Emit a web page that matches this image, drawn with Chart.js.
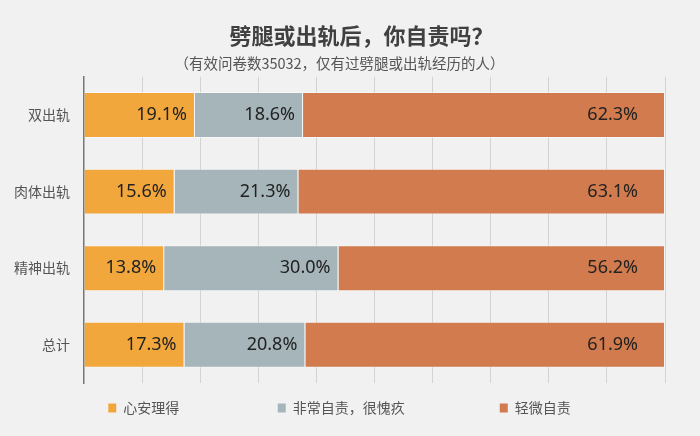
<!DOCTYPE html>
<html>
<head>
<meta charset="utf-8">
<script src="https://cdn.jsdelivr.net/npm/chart.js@4"></script>
<style>
  body { margin: 0; background: #f1f1f1; }
</style>
</head>
<body>
<canvas id="myChart" width="700" height="436"></canvas>
<script>
// data
const categories = ["双出轨", "肉体出轨", "精神出轨", "总计"]
const seriesNames = ["心安理得", "非常自责，很愧疚", "轻微自责"]
const calmValues = [19.1, 15.6, 13.8, 17.3]
const guiltyValues = [18.6, 21.3, 30.0, 20.8]
const slightValues = [62.3, 63.1, 56.2, 61.9]
const xTicks = [0, 10, 20, 30, 40, 50, 60, 70, 80, 90, 100]

const cjk = "'Noto Sans CJK SC', 'Noto Sans', sans-serif"

// paint the grey page behind everything
const bgPlugin = {
  id: "bg",
  beforeDraw: function(chart) {
    const c = chart.ctx
    c.save()
    c.fillStyle = "#f1f1f1"
    c.fillRect(0, 0, chart.width, chart.height)
    c.restore()
  }
}

// percentage text inside the end of each segment
const valueLabels = {
  id: "valueLabels",
  afterDatasetsDraw: function(chart) {
    const c = chart.ctx
    c.save()
    c.font = "18px 'Noto Sans', sans-serif"
    c.fillStyle = "#222"
    c.textAlign = "right"
    c.textBaseline = "middle"
    chart.data.datasets.forEach(function(ds, i) {
      const meta = chart.getDatasetMeta(i)
      meta.data.forEach(function(bar, j) {
        c.fillText(ds.data[j].toFixed(1) + "%", bar.x - ds.labelOffset, bar.y)
      })
    })
    c.restore()
  }
}

const myChart = new Chart(document.getElementById("myChart").getContext("2d"), {
  type: "bar",
  data: {
    labels: categories,
    datasets: [{
      label: seriesNames[0],
      data: calmValues,
      backgroundColor: "#f2a73c",
      labelOffset: 8
    }, {
      label: seriesNames[1],
      data: guiltyValues,
      backgroundColor: "#a6b5ba",
      labelOffset: 8
    }, {
      label: seriesNames[2],
      data: slightValues,
      backgroundColor: "#d17b4e",
      labelOffset: 27
    }]
  },
  options: {
    responsive: false,
    animation: false,
    indexAxis: "y",
    layout: {
      padding: { left: 14, right: 35, top: 0, bottom: 11 }
    },
    datasets: {
      bar: {
        categoryPercentage: 1,
        barPercentage: 0.6,
        borderWidth: 1,
        borderColor: "rgba(255, 255, 255, 0.45)"
      }
    },
    scales: {
      x: {
        stacked: true,
        min: 0,
        max: 100,
        afterBuildTicks: function(axis) {
          axis.ticks = xTicks.map(function(v) { return { value: v } })
        },
        ticks: { display: false },
        grid: { color: "#d3d3d3", drawTicks: false },
        border: { display: false }
      },
      y: {
        stacked: true,
        grid: { display: false, drawTicks: false },
        border: { display: true, color: "#777", width: 1.5 },
        ticks: {
          color: "#555",
          padding: 14,
          font: { size: 14, family: cjk }
        },
        // drop the extra padding chart.js leaves left of the labels
        afterFit: function(axis) {
          axis.width -= 14
        }
      }
    },
    plugins: {
      title: {
        display: true,
        // leading spaces push the title a bit right, as in the source
        text: "\u3000\u3000劈腿或出轨后，你自责吗？",
        color: "#404040",
        font: { size: 22, weight: "bold", family: cjk },
        padding: { top: 22, bottom: 6 }
      },
      subtitle: {
        display: true,
        text: "（有效问卷数35032，仅有过劈腿或出轨经历的人）",
        color: "#555",
        font: { size: 14.5, family: cjk },
        padding: { top: 0, bottom: 5 }
      },
      legend: {
        position: "bottom",
        labels: {
          boxWidth: 8,
          boxHeight: 9,
          padding: 18,
          color: "#555",
          font: { size: 14, family: cjk },
          generateLabels: function(chart) {
            const items = Chart.defaults.plugins.legend.labels.generateLabels(chart)
            const gaps = ["\u3000\u3000\u3000\u3000\u3000\u2002\u2005", "\u3000\u3000\u3000\u3000\u3000\u2002", ""]
            items.forEach(function(item, i) {
              item.lineWidth = 0
              item.text += gaps[i]
            })
            return items
          }
        }
      },
      tooltip: { enabled: false }
    }
  },
  plugins: [bgPlugin, valueLabels]
})
</script>
</body>
</html>
